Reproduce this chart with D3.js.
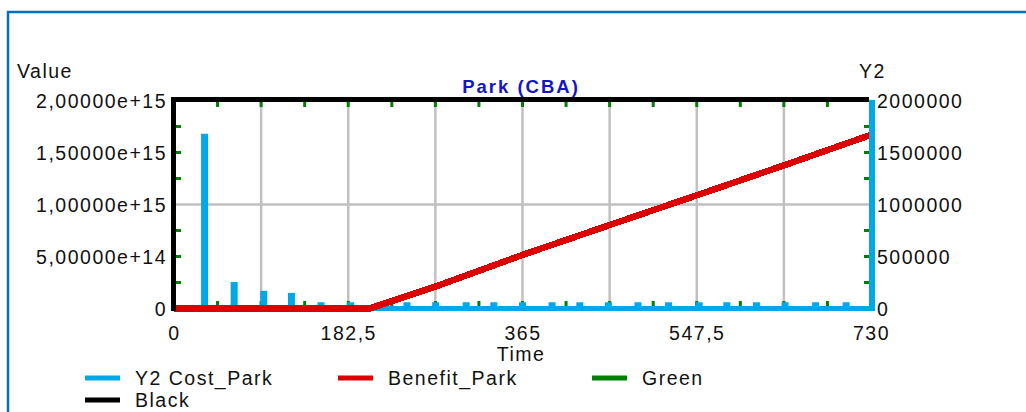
<!DOCTYPE html>
<html>
<head>
<meta charset="utf-8">
<script src="https://cdn.jsdelivr.net/npm/d3@7"></script>
<style>
  body { margin: 0; background: #fff; }
  svg { display: block; font-family: "Liberation Sans", Arial, sans-serif; }
  .lbl { font-size: 19.5px; letter-spacing: 1.5px; fill: #111; }
</style>
</head>
<body>
<svg width="1026" height="412"></svg>
<script>
const svg = d3.select("svg");

// axis ticks and labels
const timeTicks = [0, 182.5, 365, 547.5, 730];
const timeLabels = ["0", "182,5", "365", "547,5", "730"];
const valueTicks = [0, 5e14, 1e15, 1.5e15, 2e15];
const valueLabels = ["0", "5,00000e+14", "1,00000e+15", "1,50000e+15", "2,00000e+15"];
const y2Ticks = [0, 5e5, 1e6, 1.5e6, 2e6];
const y2Labels = ["0", "500000", "1000000", "1500000", "2000000"];

// Y2 Cost_Park (bars, right axis)
const costTimes = [32, 63, 94, 123, 154, 185, 215, 244, 274, 306, 335, 365, 396, 425, 455, 486, 518, 550, 579, 610, 640, 672, 704];
const costValues = [1680000, 255000, 170000, 150000, 60000, 60000, 60000, 60000, 60000, 60000, 60000, 60000,
                    60000, 60000, 60000, 60000, 60000, 60000, 60000, 60000, 60000, 60000, 60000];

// Benefit_Park (line, left axis)
const benefitTimes = [0, 205, 275, 365, 457, 548, 640, 730];
const benefitValues = [0, 0, 0.215e15, 0.515e15, 0.805e15, 1.09e15, 1.38e15, 1.67e15];

const legendNames = ["Y2 Cost_Park", "Benefit_Park", "Green", "Black"];

const colors = {
  cost: "#00a9e6",
  benefit: "#dd0000",
  green: "#008000",
  black: "#000",
  grid: "#c0c0c0",
  frame: "#0070c0",
  title: "#1414cc"
};
const legendColors = [colors.cost, colors.benefit, colors.green, colors.black];

const x = d3.scaleLinear().domain([0, 730]).range([174, 871]);
const y = d3.scaleLinear().domain([0, 2e15]).range([308.5, 100.5]);
const y2 = d3.scaleLinear().domain([0, 2e6]).range([308.5, 100.5]);

// outer frame
svg.append("path")
  .attr("d", "M8,413 L8,12 L1026,12")
  .attr("fill", "none")
  .attr("stroke", colors.frame)
  .attr("stroke-width", 2.5);

// grid
const grid = svg.append("g").attr("stroke", colors.grid).attr("stroke-width", 2.5);
grid.selectAll("line.v")
  .data(d3.range(1, 8).map(i => i * 91.25))
  .enter().append("line")
  .attr("x1", d => x(d)).attr("x2", d => x(d))
  .attr("y1", y(2e15)).attr("y2", y(0));
grid.append("line")
  .attr("x1", x(0)).attr("x2", x(730))
  .attr("y1", y(1e15)).attr("y2", y(1e15));

// green minor ticks
const ticks = svg.append("g").attr("fill", colors.green);
const xMinor = d3.range(1, 16).map(i => i * 730 / 16);
ticks.selectAll("rect.top").data(xMinor).enter().append("rect")
  .attr("x", d => x(d) - 1.5).attr("y", 102).attr("width", 3).attr("height", 5);
ticks.selectAll("rect.bot").data(xMinor).enter().append("rect")
  .attr("x", d => x(d) - 1.5).attr("y", 301).attr("width", 3).attr("height", 5);
const yMinor = [1, 2, 3, 5, 6, 7].map(i => i * 2.5e14);
ticks.selectAll("rect.left").data(yMinor).enter().append("rect")
  .attr("x", 176).attr("y", d => y(d) - 1.5).attr("width", 5).attr("height", 3);
ticks.selectAll("rect.right").data(yMinor).enter().append("rect")
  .attr("x", 864).attr("y", d => y(d) - 1.5).attr("width", 5).attr("height", 3);

// cost bars
svg.append("g").selectAll("rect")
  .data(costTimes).enter().append("rect")
  .attr("x", (d, i) => x(d) - 3.5)
  .attr("width", 7)
  .attr("y", (d, i) => y2(costValues[i]))
  .attr("height", (d, i) => y2(0) - y2(costValues[i]))
  .attr("fill", colors.cost);

// bottom baseline (cost series at zero)
svg.append("line")
  .attr("x1", x(0)).attr("x2", 875)
  .attr("y1", y2(0)).attr("y2", y2(0))
  .attr("stroke", colors.cost).attr("stroke-width", 5);

// benefit line
const line = d3.line()
  .x((d, i) => x(benefitTimes[i]))
  .y(d => y(d));
svg.append("path")
  .datum(benefitValues)
  .attr("d", line)
  .attr("fill", "none")
  .attr("stroke", colors.benefit)
  .attr("stroke-width", 6.5)
  .attr("shape-rendering", "crispEdges");

// plot frame
svg.append("line").attr("x1", 171).attr("x2", 869).attr("y1", 99.5).attr("y2", 99.5)
  .attr("stroke", colors.black).attr("stroke-width", 5);
svg.append("line").attr("x1", 173.5).attr("x2", 173.5).attr("y1", 97).attr("y2", 311)
  .attr("stroke", colors.black).attr("stroke-width", 5);
svg.append("line").attr("x1", 872).attr("x2", 872).attr("y1", 100).attr("y2", 311)
  .attr("stroke", colors.cost).attr("stroke-width", 6);

// axes
const leftAxis = svg.append("g").attr("transform", "translate(174,0)")
  .call(d3.axisLeft(y).tickValues(valueTicks).tickSize(0).tickPadding(7)
    .tickFormat((d, i) => valueLabels[i]));
const rightAxis = svg.append("g").attr("transform", "translate(871,0)")
  .call(d3.axisRight(y2).tickValues(y2Ticks).tickSize(0).tickPadding(6)
    .tickFormat((d, i) => y2Labels[i]));
const bottomAxis = svg.append("g").attr("transform", "translate(0,308.5)")
  .call(d3.axisBottom(x).tickValues(timeTicks).tickSize(0).tickPadding(18)
    .tickFormat((d, i) => timeLabels[i]));

[leftAxis, rightAxis, bottomAxis].forEach(function(a) {
  a.select(".domain").remove();
  a.selectAll("text")
    .attr("class", "lbl")
    .attr("font-family", null)
    .attr("font-size", null)
    .attr("fill", null);
  a.attr("font-family", null).attr("font-size", null);
});
leftAxis.selectAll("text").attr("dy", "0.38em");
rightAxis.selectAll("text").attr("dy", "0.38em");

// axis titles
svg.append("text").attr("class", "lbl").attr("x", 17).attr("y", 78).text("Value");
svg.append("text").attr("class", "lbl").attr("x", 859).attr("y", 78).text("Y2");
svg.append("text").attr("class", "lbl").attr("x", 521).attr("y", 361)
  .attr("text-anchor", "middle").text("Time");

// title
svg.append("text")
  .attr("x", 521).attr("y", 93)
  .attr("text-anchor", "middle")
  .attr("font-size", "18.5px")
  .attr("font-weight", "bold")
  .attr("letter-spacing", "2px")
  .attr("fill", colors.title)
  .text("Park (CBA)");

// legend
const legendPos = [[85, 378], [338, 378], [592, 378], [85, 400]];
const legend = svg.append("g").selectAll("g")
  .data(legendNames).enter().append("g")
  .attr("transform", (d, i) => `translate(${legendPos[i][0]},${legendPos[i][1]})`);
legend.append("rect")
  .attr("x", 0).attr("y", -2.5).attr("width", 35).attr("height", 5)
  .attr("fill", (d, i) => legendColors[i]);
legend.append("text")
  .attr("class", "lbl")
  .attr("x", 50).attr("y", 6.5)
  .text(d => d);
</script>
</body>
</html>
